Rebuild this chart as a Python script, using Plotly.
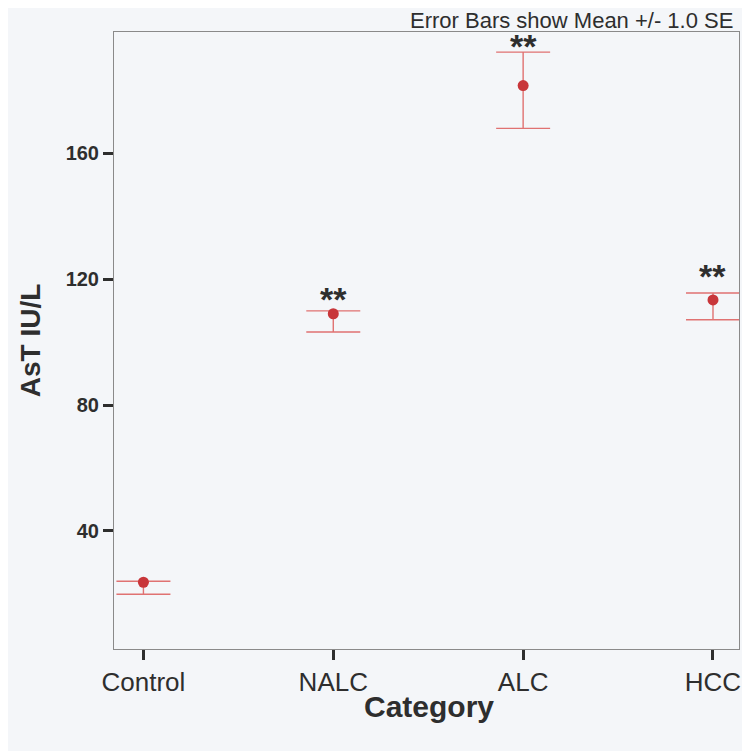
import plotly.graph_objects as go

categories = ["Control", "NALC", "ALC", "HCC"]
means = [23.7, 109.0, 181.5, 113.4]
upper = [24.0, 109.9, 192.1, 115.6]
lower = [19.9, 103.2, 167.9, 107.1]
significance = ["", "**", "**", "**"]
y_ticks = [40, 80, 120, 160]

err_plus = [u - m for u, m in zip(upper, means)]
err_minus = [m - l for m, l in zip(means, lower)]

FONT = "Liberation Sans, Arial, sans-serif"
BG = "#f4f6f9"
INK = "#2e2e2e"
star_shift = [0, 12, 6, 17]

fig = go.Figure()
fig.add_trace(go.Scatter(
    x=list(range(len(categories))),
    y=means,
    mode="markers",
    marker=dict(size=11, color="#c8363a"),
    error_y=dict(type="data", symmetric=False, array=err_plus, arrayminus=err_minus,
                 color="#e07272", thickness=1.4, width=27),
    showlegend=False,
))

for i, (u, s) in enumerate(zip(upper, significance)):
    if s:
        fig.add_annotation(x=i, y=u, text="<b>" + s + "</b>", showarrow=False,
                           yanchor="middle", yshift=star_shift[i],
                           font=dict(family=FONT, size=34, color=INK))

fig.add_annotation(xref="paper", yref="paper", x=0.994, y=1.0, xanchor="right", yanchor="bottom",
                   text="Error Bars show Mean +/- 1.0 SE", showarrow=False, yshift=-3,
                   font=dict(family=FONT, size=22, color=INK))

fig.add_annotation(xref="paper", yref="paper", x=0.504, y=-0.094, xanchor="center", yanchor="middle",
                   text="<b>Category</b>", showarrow=False,
                   font=dict(family=FONT, size=30, color=INK))

fig.update_layout(
    width=742, height=743,
    margin=dict(l=106, r=9, t=24, b=102),
    paper_bgcolor=BG, plot_bgcolor=BG,
    font=dict(family=FONT, color=INK),
)
fig.update_xaxes(
    range=[-0.155, 3.137],
    tickmode="array", tickvals=list(range(len(categories))), ticktext=categories,
    ticks="outside", ticklen=10, tickwidth=3, tickcolor=INK,
    showline=True, linecolor="#8a8a8a", linewidth=1, mirror=True,
    showgrid=False, zeroline=False,
    tickfont=dict(family=FONT, size=26, color=INK),
)
fig.update_yaxes(
    range=[2.5, 198.5],
    tickmode="array", tickvals=y_ticks, ticktext=["<b>%d</b>" % v for v in y_ticks],
    ticks="outside", ticklen=10, tickwidth=3, tickcolor=INK,
    showline=True, linecolor="#8a8a8a", linewidth=1, mirror=True,
    showgrid=False, zeroline=False,
    tickfont=dict(family=FONT, size=20, color=INK),
    title=dict(text="<b>AsT IU/L</b>", font=dict(family=FONT, size=28, color=INK), standoff=16),
)

fig.write_html("out.html")
